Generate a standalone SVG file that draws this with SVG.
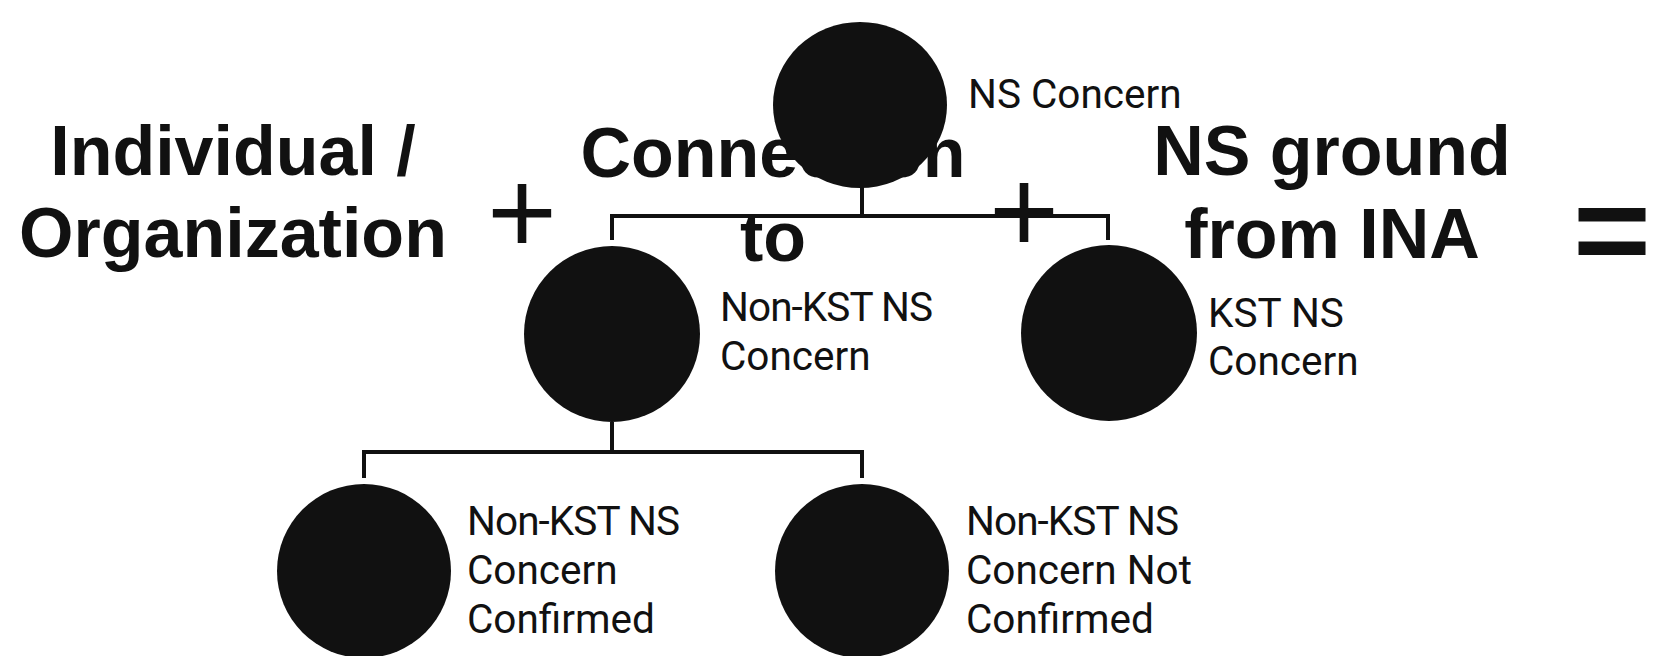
<svg xmlns="http://www.w3.org/2000/svg" width="1654" height="656" viewBox="0 0 1654 656">
<style>
.big{font-family:"Liberation Sans",Arial,sans-serif;font-weight:bold;font-size:70px;fill:#111;text-anchor:middle}
.op{font-family:"Liberation Sans",Arial,sans-serif;font-size:120px;fill:#111;text-anchor:middle}
.lbl{font-family:Roboto,"Liberation Sans",sans-serif;font-size:40.5px;fill:#111}
.node{fill:#111}
.conn{fill:none;stroke:#111;stroke-width:4}
</style>
<rect width="1654" height="656" fill="#fff"/>
<g id="title">
<text class="big" x="233" y="175">Individual /</text>
<text class="big" x="233" y="257">Organization</text>
<text class="op" x="522" y="254">+</text>
<text class="big" x="773" y="177">Connection</text>
<text class="big" x="773" y="261">to</text>
<text class="big" x="1332" y="175">NS ground</text>
<text class="big" x="1332" y="258">from INA</text>
<text class="big" x="1612" y="273" style="font-size:125px" textLength="78" lengthAdjust="spacingAndGlyphs">=</text>
</g>
<g id="connectors">
<path class="conn" d="M862 187V216M612 240V216H1108V240"/>
<path class="conn" d="M612 422V452M364 478V452H862V478"/>
</g>
<g id="ns-concern">
<ellipse class="node" cx="860" cy="105" rx="87" ry="83"/>
<text class="lbl" x="968" y="108">NS Concern</text>
</g>
<g id="plus2">
<text class="op" x="1024" y="253">+</text>
</g>
<g id="non-kst">
<circle class="node" cx="612" cy="334" r="88"/>
<text class="lbl" x="720" y="321" textLength="213">Non-KST NS</text>
<text class="lbl" x="720" y="370">Concern</text>
</g>
<g id="kst">
<circle class="node" cx="1109" cy="333" r="88"/>
<text class="lbl" x="1208" y="327">KST NS</text>
<text class="lbl" x="1208" y="375">Concern</text>
</g>
<g id="confirmed">
<circle class="node" cx="364" cy="571" r="87"/>
<text class="lbl" x="467" y="535" textLength="213">Non-KST NS</text>
<text class="lbl" x="467" y="584">Concern</text>
<text class="lbl" x="467" y="633">Confirmed</text>
</g>
<g id="not-confirmed">
<circle class="node" cx="862" cy="571" r="87"/>
<text class="lbl" x="966" y="535" textLength="213">Non-KST NS</text>
<text class="lbl" x="966" y="584">Concern Not</text>
<text class="lbl" x="966" y="633">Confirmed</text>
</g>
</svg>
